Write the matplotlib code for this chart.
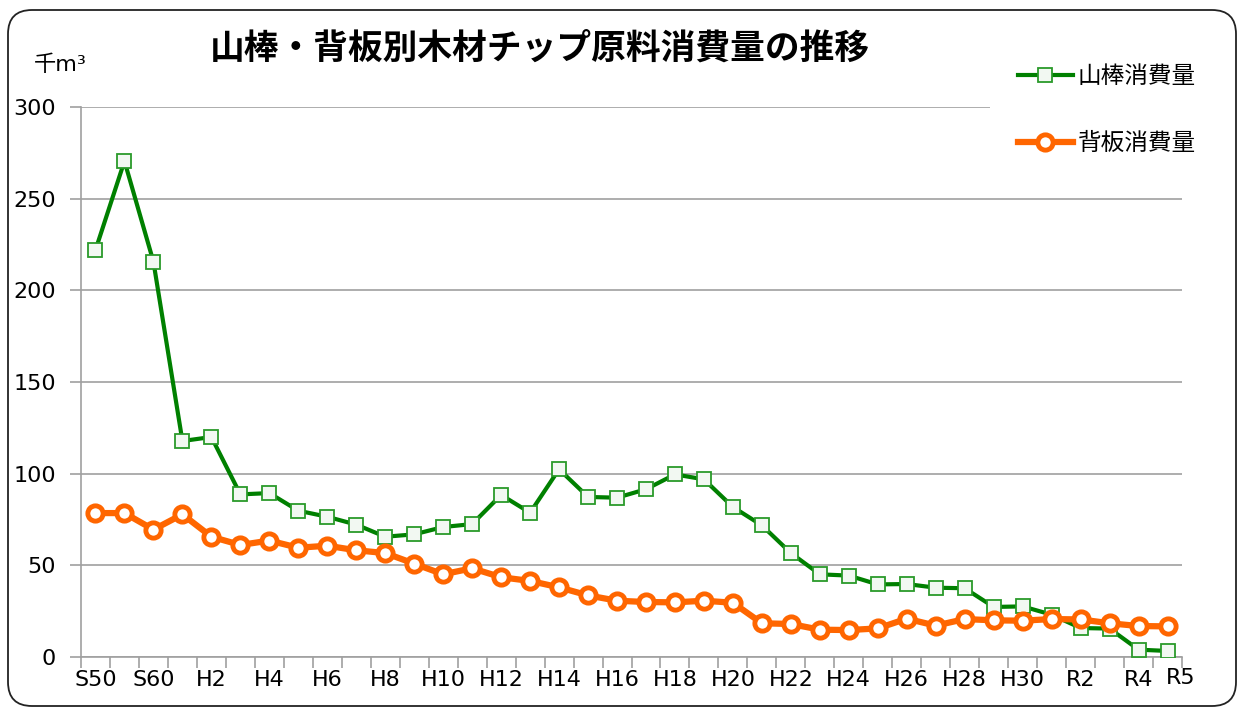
import numpy as np
import matplotlib
matplotlib.use("Agg")
import matplotlib.pyplot as plt
from matplotlib.patches import FancyBboxPatch
from matplotlib.transforms import IdentityTransform

plt.rcParams['font.family'] = ['DejaVu Sans', 'Noto Sans CJK JP']

years = ['S50', 'S55', 'S60', 'H1'] + ['H%d' % i for i in range(2, 31)] + ['R1', 'R2', 'R3', 'R4', 'R5']
yamabo = [222, 270.5, 215.6, 117.8, 120, 88.7, 89.4, 79.8, 76.5, 72.2,
          65.6, 66.9, 70.9, 72.5, 88.4, 78.7, 102.4, 87.3, 86.9, 91.5,
          99.6, 96.9, 81.8, 71.8, 56.7, 45.1, 44.4, 39.6, 39.8, 37.8,
          37.5, 27.3, 27.6, 23.1, 15.8, 15.5, 4.0, 3.3]
seita = [78.5, 78.5, 69.5, 77.8, 65.6, 61.1, 63.5, 59.6, 60.7, 58.2,
         56.7, 50.9, 45.1, 48.4, 43.5, 41.5, 38.0, 33.6, 30.7, 30.0,
         29.8, 30.7, 29.6, 18.4, 18.0, 14.9, 14.7, 15.6, 20.9, 17.1,
         20.7, 20.0, 19.8, 20.7, 20.5, 18.4, 16.9, 16.7]
shown_labels = ['S50', 'S60'] + ['H%d' % i for i in range(2, 31, 2)] + ['R2', 'R4']

x = np.arange(len(years))

fig = plt.figure(figsize=(12.39, 7.08), dpi=100)
ax = fig.add_axes([81/1239, 51/708, 1101/1239, 550/708])

ax.plot(x, yamabo, color='#008000', lw=3, marker='s', ms=9.5,
        mfc='#f2f8f2', mec='#2a9a2a', mew=1.3, label='山棒消費量', zorder=3)
ax.plot(x, seita, color='#ff6600', lw=4.5, marker='o', ms=11,
        mfc='white', mec='#ff6600', mew=3.5, label='背板消費量', zorder=4)

ax.set_xlim(-0.5, len(years) - 0.5)
ax.set_ylim(0, 300)
ax.set_yticks(np.arange(0, 301, 50))
ax.grid(axis='y', color='#a0a0a0', lw=1.2)
ax.set_axisbelow(True)

# tick marks between categories, labels under every other category
ax.set_xticks(np.arange(-0.5, len(years), 1))
ax.set_xticklabels([])
ax.set_xticks([years.index(s) for s in shown_labels], minor=True)
ax.set_xticklabels(shown_labels, minor=True)
ax.tick_params(axis='x', which='major', length=8, color='#a0a0a0', width=1.2)
ax.tick_params(axis='x', which='minor', length=0, pad=9, labelsize=16)
ax.tick_params(axis='y', length=8, color='#a0a0a0', width=1.2, pad=10, labelsize=16)
ax.text(37.45, -6, 'R5', ha='center', va='top', fontsize=16)

for s in ['top', 'right']:
    ax.spines[s].set_visible(False)
for s in ['left', 'bottom']:
    ax.spines[s].set_color('#a0a0a0')
    ax.spines[s].set_linewidth(1.2)

fig.text(540/1239, 1 - 48/708, '山棒・背板別木材チップ原料消費量の推移', ha='center', va='center',
         fontsize=25, fontweight='bold', family='Noto Sans CJK JP')
fig.text(34/1239, 1 - 65/708, '千m³', ha='left', va='center', fontsize=16)

fig.legend(loc='upper left', bbox_to_anchor=(990/1239, 1 - 36/708), frameon=True,
           facecolor='white', edgecolor='none', framealpha=1, fancybox=False,
           fontsize=17, handlelength=2.3, handletextpad=0.2, labelspacing=1.8,
           borderpad=1.2, borderaxespad=0)

border = FancyBboxPatch((8, 2), 1228, 696, boxstyle='round,pad=0,rounding_size=24',
                        transform=IdentityTransform(), fill=False, ec='#222222', lw=1.3)
fig.patches.append(border)

fig.savefig('out.png', dpi=100)
